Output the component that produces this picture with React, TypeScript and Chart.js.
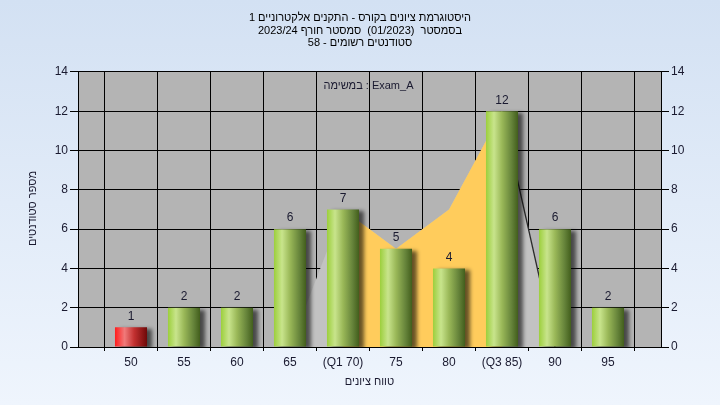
import React, { useEffect, useRef } from 'react';
import { Chart, registerables } from 'chart.js';

Chart.register(...registerables);

// ---- data ----
const categories = ['', '50', '55', '60', '65', '(Q1 70)', '75', '80', '(Q3 85)', '90', '95', ''];
const counts = [null, 1, 2, 2, 6, 7, 5, 4, 12, 6, 2, null];
const envelope = [null, null, null, null, 0, 7, 5, 7, 12, 0, null, null];
const quartileBand = [null, null, null, null, null, 7, 5, 7, 12, null, null, null];
const failingIndices = [1];
const yMin = 0;
const yMax = 14;
const yStep = 2;

const titleLines = [
  'היסטוגרמת ציונים בקורס - התקנים אלקטרוניים 1',
  'בסמסטר  (01/2023)  סמסטר חורף 2023/24',
  'סטודנטים רשומים - 58',
];
const legendText = 'במשימה : Exam_A';
const xTitle = 'טווח ציונים';
const yTitle = 'מספר סטודנטים';

const FONT = 'Liberation Sans, Arial, sans-serif';
const TEXT = '#1a1a30';

const bgPlugin = {
  id: 'bgPlugin',
  beforeDraw(chart: any) {
    const { ctx, width, height, chartArea } = chart;
    ctx.save();
    const g = ctx.createLinearGradient(0, 0, 0, height);
    g.addColorStop(0, '#d3e1f3');
    g.addColorStop(1, '#eff5fd');
    ctx.fillStyle = g;
    ctx.fillRect(0, 0, width, height);
    ctx.fillStyle = '#b4b4b4';
    ctx.fillRect(chartArea.left, chartArea.top, chartArea.right - chartArea.left, chartArea.bottom - chartArea.top);
    ctx.restore();
  },
};

const barStylePlugin = {
  id: 'barStyle',
  beforeDatasetDraw(chart: any, args: any) {
    const meta = chart.getDatasetMeta(args.index);
    if (meta.type !== 'bar') return;
    const ctx = chart.ctx;
    meta.data.forEach((el: any, i: number) => {
      if (counts[i] == null) return;
      const half = el.width / 2;
      const g = ctx.createLinearGradient(el.x - half, 0, el.x + half, 0);
      if (failingIndices.includes(i)) {
        g.addColorStop(0, '#ff1c1c');
        g.addColorStop(0.3, '#f07a7a');
        g.addColorStop(0.6, '#c23030');
        g.addColorStop(1, '#6e0808');
      } else {
        g.addColorStop(0, '#9ccf3c');
        g.addColorStop(0.25, '#c8e48c');
        g.addColorStop(0.5, '#9ab858');
        g.addColorStop(0.8, '#65833a');
        g.addColorStop(1, '#425e1c');
      }
      el.options.backgroundColor = g;
    });
    ctx.save();
    ctx.shadowColor = 'rgba(0,0,0,0.6)';
    ctx.shadowOffsetX = 5;
    ctx.shadowOffsetY = 2;
    ctx.shadowBlur = 4;
  },
  afterDatasetDraw(chart: any, args: any) {
    const meta = chart.getDatasetMeta(args.index);
    if (meta.type !== 'bar') return;
    chart.ctx.restore();
  },
  afterDatasetsDraw(chart: any) {
    const ctx = chart.ctx;
    const idx = chart.data.datasets.findIndex((d: any) => d.type === 'bar');
    const meta = chart.getDatasetMeta(idx);
    ctx.save();
    ctx.font = `12px ${FONT}`;
    ctx.fillStyle = TEXT;
    ctx.textAlign = 'center';
    ctx.textBaseline = 'middle';
    meta.data.forEach((el: any, i: number) => {
      if (counts[i] == null) return;
      ctx.fillText(String(counts[i]), el.x, el.y - 11);
    });
    const ca = chart.chartArea;
    ctx.font = `11px ${FONT}`;
    // legend text
    ctx.fillText(legendText, (ca.left + ca.right) / 2 - 1, ca.top + 14);
    // y title
    ctx.translate(33, (ca.top + ca.bottom) / 2 - 1);
    ctx.rotate(-Math.PI / 2);
    ctx.fillText(yTitle, 0, 0);
    ctx.restore();
  },
};

export default function App() {
  const ref = useRef<HTMLCanvasElement | null>(null);
  useEffect(() => {
    if (!ref.current) return;
    const chart = new Chart(ref.current, {
      data: {
        labels: categories,
        datasets: [
          {
            type: 'bar',
            data: counts,
            yAxisID: 'y',
            order: 0,
            barPercentage: 0.605,
            categoryPercentage: 1,
            borderWidth: 0,
            backgroundColor: (c: any) => (failingIndices.includes(c.dataIndex) ? '#e02020' : '#8cbc40'),
          } as any,
          {
            type: 'line',
            data: quartileBand,
            yAxisID: 'y',
            order: 1,
            fill: 'origin',
            backgroundColor: '#ffcc5c',
            borderColor: 'rgba(0,0,0,0)',
            borderWidth: 0,
            pointRadius: 0,
            tension: 0,
          } as any,
          {
            type: 'line',
            data: envelope,
            yAxisID: 'y',
            order: 2,
            fill: 'origin',
            backgroundColor: '#c2c2c2',
            borderColor: 'rgba(0,0,0,0)',
            borderWidth: 1.3,
            pointRadius: 0,
            tension: 0,
            segment: {
              borderColor: (s: any) => (s.p0DataIndex === 8 ? '#2a2a2a' : 'rgba(0,0,0,0)'),
            },
          } as any,
        ],
      },
      options: {
        responsive: false,
        animation: false,
        layout: { padding: 0 },
        plugins: {
          legend: { display: false },
          tooltip: { enabled: false },
          title: {
            display: true,
            text: titleLines,
            color: '#000',
            font: { family: FONT, size: 11, weight: 'normal', lineHeight: 1.136 },
            padding: { top: 12, bottom: 22.5 },
          },
        },
        scales: {
          x: {
            type: 'category',
            offset: false,
            grid: { color: '#000', tickColor: '#000', tickLength: 4, lineWidth: 1 },
            border: { color: '#000' },
            ticks: { color: TEXT, font: { family: FONT, size: 12 }, padding: 4, maxRotation: 0, autoSkip: false },
            title: {
              display: true,
              text: xTitle,
              color: TEXT,
              font: { family: FONT, size: 11 },
              padding: { top: 4, bottom: 16 },
            },
            afterFit: (s: any) => { s.height = 58; },
          },
          y: {
            position: 'left',
            min: yMin,
            max: yMax,
            ticks: { stepSize: yStep, color: TEXT, font: { family: FONT, size: 12 }, padding: 2 },
            grid: { color: '#000', tickColor: '#000', tickLength: 8 },
            border: { color: '#000' },
            afterFit: (s: any) => { s.width = 78; },
          },
          y2: {
            position: 'right',
            min: yMin,
            max: yMax,
            ticks: { stepSize: yStep, color: TEXT, font: { family: FONT, size: 12 }, padding: 2 },
            grid: { drawOnChartArea: false, color: '#000', tickColor: '#000', tickLength: 8 },
            border: { color: '#000' },
            afterFit: (s: any) => { s.width = 59; },
          },
        },
      } as any,
      plugins: [bgPlugin, barStylePlugin],
    });
    return () => chart.destroy();
  }, []);
  return (
    <div style={{ position: 'fixed', left: 0, top: 0, width: 720, height: 405 }}>
      <canvas ref={ref} width={720} height={405} style={{ width: 720, height: 405, display: 'block' }} />
    </div>
  );
}
